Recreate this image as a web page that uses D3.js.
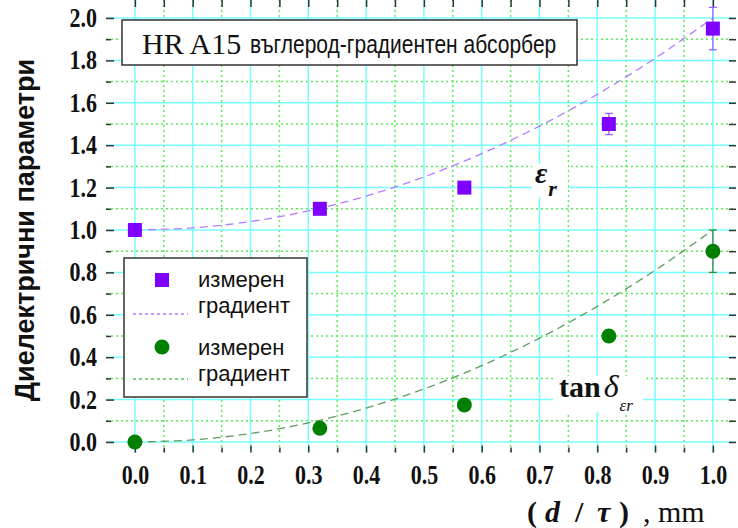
<!DOCTYPE html>
<html>
<head>
<meta charset="utf-8">
<script src="https://cdn.jsdelivr.net/npm/d3@7"></script>
<style>
  body { margin: 0; background: #fff; }
  svg text { fill: #111; }
  .tall { transform-box: fill-box; transform-origin: center; transform: scaleY(1.2); }
</style>
</head>
<body>
<svg id="chart" width="738" height="528"></svg>
<script>
// measured points
var measX = [0.0, 0.32, 0.57, 0.82, 1.0];
var epsMeas = [1.0, 1.1, 1.2, 1.5, 1.95];
var epsErr = [0, 0, 0, 0.05, 0.1];
var tanMeas = [0.0, 0.065, 0.175, 0.5, 0.9];
var tanErr = [0, 0, 0, 0, 0.1];
// gradient curves
var gradX = [0.0, 0.1, 0.2, 0.3, 0.4, 0.5, 0.6, 0.7, 0.8, 0.9, 1.0];
var epsGrad = [1.0, 1.01, 1.04, 1.09, 1.16, 1.25, 1.36, 1.49, 1.64, 1.81, 2.0];
var tanGrad = [0.0, 0.01, 0.04, 0.09, 0.16, 0.25, 0.36, 0.49, 0.64, 0.81, 1.0];
var xTicks = [0.0, 0.1, 0.2, 0.3, 0.4, 0.5, 0.6, 0.7, 0.8, 0.9, 1.0];
var yTicks = [0.0, 0.2, 0.4, 0.6, 0.8, 1.0, 1.2, 1.4, 1.6, 1.8, 2.0];

var svg = d3.select('#chart');
var x = d3.scaleLinear().domain([-0.05, 1.04]).range([106, 736]);
var y = d3.scaleLinear().domain([-0.05, 2.05]).range([452.6, 7.4]);
var left = x.range()[0], right = x.range()[1], top = y.range()[1], bottom = y.range()[0];
var serif = '"Liberation Serif", "Times New Roman", serif';
var sans = '"Liberation Sans", Arial, sans-serif';

var xMinor = d3.range(0, 1.04, 0.05).filter(function(v){ return Math.round(v*100) % 10 != 0; });
var yMinor = d3.range(0.1, 2.05, 0.2);

// grid
var grid = svg.append('g');
grid.selectAll('.gxm').data(xMinor).enter().append('line')
  .attr('x1', d=>x(d)).attr('x2', d=>x(d)).attr('y1', top).attr('y2', bottom)
  .attr('stroke', '#55ee55').attr('stroke-width', 1.5).attr('stroke-dasharray', '2,3');
grid.selectAll('.gym').data(yMinor).enter().append('line')
  .attr('y1', d=>y(d)).attr('y2', d=>y(d)).attr('x1', left).attr('x2', right)
  .attr('stroke', '#55ee55').attr('stroke-width', 1.5).attr('stroke-dasharray', '2,3');
grid.selectAll('.gx').data(xTicks).enter().append('line')
  .attr('x1', d=>x(d)).attr('x2', d=>x(d)).attr('y1', top).attr('y2', bottom)
  .attr('stroke', '#77ffff').attr('stroke-width', 1.5);
grid.selectAll('.gy').data(yTicks).enter().append('line')
  .attr('y1', d=>y(d)).attr('y2', d=>y(d)).attr('x1', left).attr('x2', right)
  .attr('stroke', '#77ffff').attr('stroke-width', 1.5);

// axes with inward ticks
function tickAxis(axis, tr, vals, len) {
  svg.append('g').attr('transform', tr)
    .call(axis.tickValues(vals).tickSize(len).tickFormat(''))
    .call(g => g.select('.domain').remove())
    .selectAll('line').attr('stroke', '#333').attr('stroke-width', 1.5);
}
var xAll = xTicks.concat(xMinor), yAll = yTicks.concat(yMinor);
tickAxis(d3.axisTop(x), 'translate(0,' + bottom + ')', xTicks, 7);
tickAxis(d3.axisTop(x), 'translate(0,' + bottom + ')', xMinor, 5);
tickAxis(d3.axisBottom(x), 'translate(0,' + top + ')', xAll, 7);
tickAxis(d3.axisRight(y), 'translate(' + left + ',0)', yTicks, 8);
tickAxis(d3.axisRight(y), 'translate(' + left + ',0)', yMinor, 5);
tickAxis(d3.axisLeft(y), 'translate(' + right + ',0)', yAll, 7);

// tick labels
svg.append('g').attr('transform', 'translate(0,' + bottom + ')')
  .call(d3.axisBottom(x).tickValues(xTicks).tickSize(0).tickPadding(0).tickFormat(d3.format('.1f')))
  .call(g => g.select('.domain').remove())
  .selectAll('text').attr('y', 14).attr('class', 'tall')
  .style('font-family', serif)
  .style('font-weight', 'bold').style('font-size', '22px').attr('fill', '#111');
svg.append('g').attr('transform', 'translate(' + left + ',0)')
  .call(d3.axisLeft(y).tickValues(yTicks).tickSize(0).tickPadding(9).tickFormat(d3.format('.1f')))
  .call(g => g.select('.domain').remove())
  .selectAll('text').attr('class', 'tall')
  .style('font-family', serif)
  .style('font-weight', 'bold').style('font-size', '22px').attr('fill', '#111');

// curves
var line = d3.line().curve(d3.curveMonotoneX);
svg.append('path')
  .attr('d', line(gradX.map((v,i)=>[x(v), y(epsGrad[i])])))
  .attr('fill', 'none').attr('stroke', '#b57bff').attr('stroke-width', 1.3).attr('stroke-dasharray', '8,5');
svg.append('path')
  .attr('d', line(gradX.map((v,i)=>[x(v), y(tanGrad[i])])))
  .attr('fill', 'none').attr('stroke', '#5e9e5e').attr('stroke-width', 1.3).attr('stroke-dasharray', '8,5');

// error bars
function errBars(vals, errs, color) {
  var g = svg.append('g').attr('stroke', color).attr('stroke-width', 1.3);
  measX.forEach(function(v, i) {
    if (!errs[i]) return;
    var cx = x(v), y0 = y(vals[i] - errs[i]), y1 = y(vals[i] + errs[i]);
    g.append('line').attr('x1', cx).attr('x2', cx).attr('y1', y0).attr('y2', y1);
    g.append('line').attr('x1', cx-4).attr('x2', cx+4).attr('y1', y0).attr('y2', y0);
    g.append('line').attr('x1', cx-4).attr('x2', cx+4).attr('y1', y1).attr('y2', y1);
  });
}
errBars(epsMeas, epsErr, '#a060ff');
errBars(tanMeas, tanErr, '#3a8a3a');

svg.selectAll('.sq').data(measX).enter().append('rect')
  .attr('x', d=>x(d)-7).attr('y', (d,i)=>y(epsMeas[i])-7)
  .attr('width', 14).attr('height', 14).attr('fill', '#7f00ff');
svg.selectAll('.ci').data(measX).enter().append('circle')
  .attr('cx', d=>x(d)).attr('cy', (d,i)=>y(tanMeas[i])).attr('r', 7.5).attr('fill', '#007f00');

// frame
svg.append('rect').attr('x', left).attr('y', top).attr('width', right-left).attr('height', bottom-top)
  .attr('fill', 'none').attr('stroke', '#444').attr('stroke-width', 2);

// title box
svg.append('rect').attr('x', 122).attr('y', 20).attr('width', 455).attr('height', 45)
  .attr('fill', '#fff').attr('stroke', '#333').attr('stroke-width', 1.5);
svg.append('text').attr('x', 142).attr('y', 54).text('HR A15')
  .style('font-family', serif).style('font-size', '30px');
svg.append('text').attr('x', 250).attr('y', 52).attr('class', 'tall').text('въглерод-градиентен абсорбер')
  .style('font-family', sans).style('font-size', '21px');

// annotations
svg.append('rect').attr('x', 532).attr('y', 164).attr('width', 36).attr('height', 33).attr('fill', '#fff');
var e = svg.append('text').attr('x', 535).attr('y', 183)
  .style('font-family', serif).style('font-style', 'italic').style('font-weight', 'bold');
e.append('tspan').text('ε').style('font-size', '30px');
e.append('tspan').attr('dx', 1).attr('dy', 13).text('r').style('font-size', '22px');

svg.append('rect').attr('x', 553).attr('y', 376).attr('width', 90).attr('height', 36).attr('fill', '#fff');
var td = svg.append('text').attr('x', 559).attr('y', 397).style('font-family', serif);
td.append('tspan').text('tan').style('font-weight', 'bold').style('font-size', '30px');
td.append('tspan').attr('dx', 3).text('δ').style('font-style', 'italic').style('font-size', '32px');
td.append('tspan').attr('dx', 1).attr('dy', 14).text('εr').style('font-style', 'italic').style('font-size', '17px');

// legend
var lg = svg.append('g');
lg.append('rect').attr('x', 124).attr('y', 258).attr('width', 183).attr('height', 139)
  .attr('fill', '#fff').attr('stroke', '#333').attr('stroke-width', 1.5);
function legText(ty, s) {
  lg.append('text').attr('x', 198).attr('y', ty).text(s)
    .style('font-family', sans).style('font-size', '22px');
}
lg.append('rect').attr('x', 155).attr('y', 273).attr('width', 14).attr('height', 14).attr('fill', '#7f00ff');
legText(287, 'измерен');
lg.append('line').attr('x1', 133).attr('x2', 188).attr('y1', 314).attr('y2', 314)
  .attr('stroke', '#b57bff').attr('stroke-width', 1.3).attr('stroke-dasharray', '3,3');
legText(313, 'градиент');
lg.append('circle').attr('cx', 162).attr('cy', 347).attr('r', 7.5).attr('fill', '#007f00');
legText(355, 'измерен');
lg.append('line').attr('x1', 133).attr('x2', 188).attr('y1', 379).attr('y2', 379)
  .attr('stroke', '#5fbf5f').attr('stroke-width', 1.3).attr('stroke-dasharray', '3,3');
legText(381, 'градиент');

// axis titles
svg.append('text').attr('transform', 'translate(34,230) rotate(-90)').attr('text-anchor', 'middle')
  .style('font-family', sans).style('font-weight', 'bold').style('font-size', '27px')
  .text('Диелектрични параметри');
var xt = svg.append('text').attr('x', 527).attr('y', 522)
  .style('font-family', serif).style('font-size', '30px');
xt.append('tspan').text('(').style('font-weight', 'bold');
xt.append('tspan').attr('x', 545).text('d').style('font-weight', 'bold').style('font-style', 'italic');
xt.append('tspan').attr('x', 575).text('/').style('font-weight', 'bold');
xt.append('tspan').attr('x', 597).text('τ').style('font-weight', 'bold').style('font-style', 'italic');
xt.append('tspan').attr('x', 619).text(')').style('font-weight', 'bold');
xt.append('tspan').attr('x', 643).text(', mm');
</script>
</body>
</html>
